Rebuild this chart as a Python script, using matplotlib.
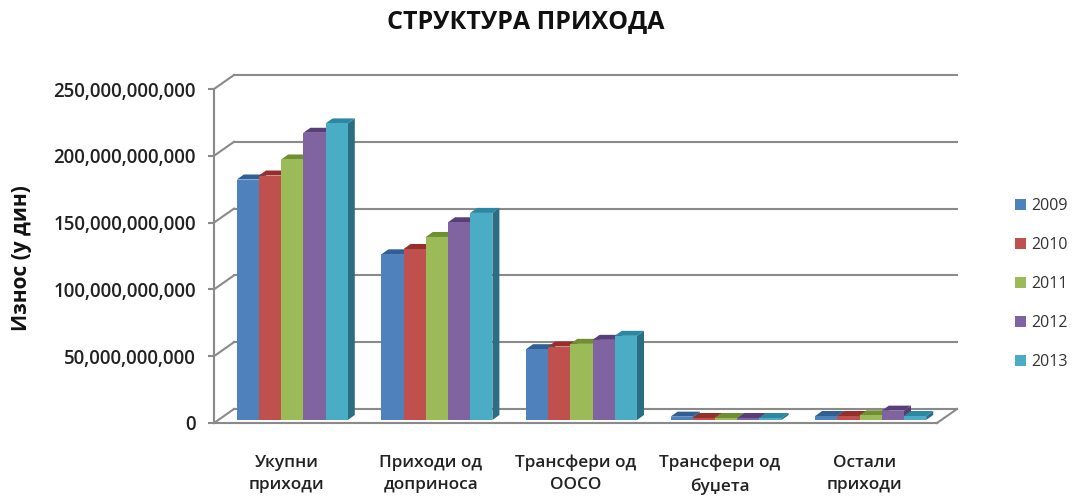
import matplotlib
matplotlib.use('Agg')
import matplotlib.pyplot as plt
from matplotlib.patches import Patch, Polygon
from matplotlib.transforms import Affine2D

categories = ['Укупни\nприходи', 'Приходи од\nдоприноса', 'Трансфери од\nООСО',
              'Трансфери од\nбуџета', 'Остали\nприходи']
years = ['2009', '2010', '2011', '2012', '2013']

# iznosi u milijardama dinara, po godinama
v2009 = [180, 124, 53, 2.5, 3]
v2010 = [183, 128, 55, 1.5, 3]
v2011 = [195, 137, 57, 1.5, 3.5]
v2012 = [215, 148, 60, 1.5, 7]
v2013 = [222, 155, 63, 1.5, 3]
series = [v2009, v2010, v2011, v2012, v2013]

yticks = [0, 50, 100, 150, 200, 250]
ytick_labels = ['0', '50,000,000,000', '100,000,000,000', '150,000,000,000',
                '200,000,000,000', '250,000,000,000']

front = ['#4F81BD', '#C0504D', '#9BBB59', '#8064A2', '#4BACC6']
top = ['#2F5F94', '#962F2C', '#6F8F30', '#583F7A', '#2A88A2']
side = ['#2E5A8A', '#8A3532', '#6B8A35', '#554070', '#2B6E84']
gray = '#8A8A8A'
W, H = 1073, 496

plt.rcParams['font.family'] = ['Open Sans', 'DejaVu Sans']

fig = plt.figure(figsize=(W / 100, H / 100), dpi=100)
ax = fig.add_axes([214 / W, 1 - 423 / H, 723 / W, 334 / H])
ax.set_xlim(-0.5, 4.5)
ax.set_ylim(0, 250)
ax.patch.set_alpha(0)

# one pixel in data units, used for the fake 3D depth
ux = 5 / 723
uy = 250 / 334

# back wall gridlines and the side wall connecting them to the y axis
for t in yticks:
    ax.plot([-0.5 + 20 * ux, 4.5 + 20 * ux], [t + 14 * uy, t + 14 * uy], color=gray, lw=1.5,
            clip_on=False, zorder=1)
    ax.plot([-0.5, -0.5 + 20 * ux], [t, t + 14 * uy], color=gray, lw=1.5, clip_on=False, zorder=1)
# right edge of the floor
ax.plot([4.5, 4.5 + 20 * ux], [0, 14 * uy], color=gray, lw=1.5, clip_on=False, zorder=1)

# bars stand a little way into the floor
bar_shift = ax.transData + Affine2D().translate(6, 3)
bw = 22.2 / 144.6
dx = 7 * ux
dy = 5 * uy

for i, vals in enumerate(series):
    for j, v in enumerate(vals):
        x0 = j + (i - 2.5) * bw
        x1 = x0 + bw
        z = 3 + i * 0.01
        ax.add_patch(Polygon([(x1, 0), (x1 + dx, dy), (x1 + dx, v + dy), (x1, v)],
                             facecolor=side[i], edgecolor='none', transform=bar_shift,
                             clip_on=False, zorder=z))
        ax.add_patch(Polygon([(x0, v), (x0 + dx, v + dy), (x1 + dx, v + dy), (x1, v)],
                             facecolor=top[i], edgecolor='none', transform=bar_shift,
                             clip_on=False, zorder=z))
        ax.bar(x0 + bw / 2, v, bw, color=front[i], transform=bar_shift, clip_on=False, zorder=z + 0.001)

for s in ['top', 'right']:
    ax.spines[s].set_visible(False)
for s in ['left', 'bottom']:
    ax.spines[s].set_color(gray)
    ax.spines[s].set_linewidth(1.5)
    ax.spines[s].set_zorder(2)

ax.set_yticks(yticks)
ax.set_yticklabels(ytick_labels, fontsize=13.4, fontweight='semibold', color='#222222')
ax.tick_params(axis='y', length=4, width=1.5, color=gray, pad=9)
ax.set_xticks(range(5))
ax.set_xticklabels(categories, fontsize=12.4, fontweight='semibold', color='#222222', linespacing=1.5)
ax.tick_params(axis='x', length=0, pad=23)

fig.text(526 / W, 1 - 22 / H, 'СТРУКТУРА ПРИХОДА', ha='center', va='center',
         fontsize=18, fontweight='bold', color='#111111')
fig.text(22 / W, 1 - 258 / H, 'Износ (у дин)', ha='center', va='center', rotation=90,
         fontsize=15, fontweight='bold', color='#111111')

handles = [Patch(facecolor=c, edgecolor='none') for c in front]
fig.legend(handles, years, loc='center left', bbox_to_anchor=(1015 / W, 1 - 284 / H),
           frameon=False, fontsize=11.5, labelcolor='#333333', handlelength=0.7, handleheight=0.7,
           handletextpad=0.3, labelspacing=1.43, borderpad=0, borderaxespad=0)

fig.savefig('out.png', dpi=100)
